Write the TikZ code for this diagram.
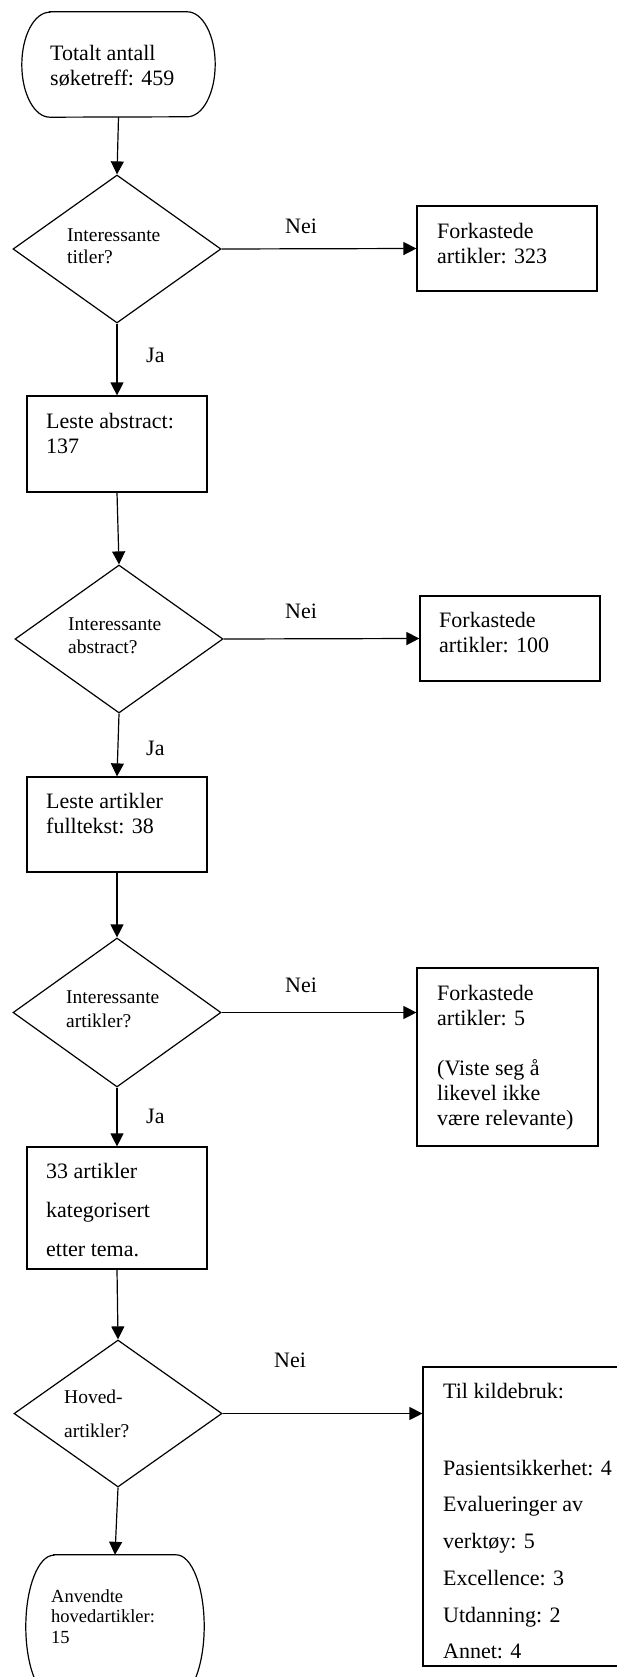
\documentclass[tikz,border=0pt]{standalone}
\usepackage{fontspec}
\setmainfont{Liberation Serif}
\usetikzlibrary{shapes.geometric,arrows.meta}
\tikzset{
  lw/.style={line width=1.2pt},
  boxn/.style={draw, lw, rectangle, inner sep=0pt},
  dian/.style={draw, lw, diamond, inner sep=0pt},
  termn/.style={rectangle, inner sep=0pt, draw=none},
  arr/.style={lw, -{Triangle[length=13pt,width=13pt]}},
  txt/.style={anchor=north west, inner sep=0pt, align=left, font=\fontsize{22}{25}\selectfont},
}
\begin{document}
\begin{tikzpicture}[x=1pt,y=-1pt]
\useasboundingbox[fill=white] (0,0) rectangle (616,1677);

% ---- shapes ----
\node[termn, minimum width=193pt, minimum height=105pt] (start) at (118.5,64.5) {};
\draw[lw] ([xshift=28pt]start.north west) -- ([xshift=-28pt]start.north east)
  arc[start angle=90,end angle=-90,x radius=28pt,y radius=52.5pt]
  -- ([xshift=28pt]start.south west)
  arc[start angle=270,end angle=90,x radius=28pt,y radius=52.5pt] -- cycle;

\node[dian, minimum width=208pt, minimum height=148pt] (d1) at (117,249) {};
\node[boxn, minimum width=180pt, minimum height=85pt] (f1) at (507,248.5) {};
\node[boxn, minimum width=180pt, minimum height=96pt] (b1) at (117,444) {};
\node[dian, minimum width=208pt, minimum height=148pt] (d2) at (119,639) {};
\node[boxn, minimum width=180pt, minimum height=85pt] (f2) at (510,638.5) {};
\node[boxn, minimum width=180pt, minimum height=95pt] (b2) at (117,824.5) {};
\node[dian, minimum width=208pt, minimum height=149pt] (d3) at (117,1012.5) {};
\node[boxn, minimum width=181pt, minimum height=178pt] (f3) at (507.5,1057) {};
\node[boxn, minimum width=180pt, minimum height=122pt] (b3) at (117,1208) {};
\node[dian, minimum width=208pt, minimum height=147pt] (d4) at (118,1413.5) {};
\node[boxn, minimum width=196pt, minimum height=299pt] (f4) at (521,1516.5) {};

\node[termn, minimum width=178pt, minimum height=143pt] (end) at (115,1626.5) {};
\draw[lw] ([xshift=28pt]end.north west) -- ([xshift=-28pt]end.north east)
  arc[start angle=90,end angle=-90,x radius=28pt,y radius=71.5pt]
  -- ([xshift=28pt]end.south west)
  arc[start angle=270,end angle=90,x radius=28pt,y radius=71.5pt] -- cycle;

% ---- texts ----
\node[txt] (tstart) at (50,42.5) {\strut Totalt antall\\søketreff: 459};
\node[txt, font=\fontsize{19.5}{22}\selectfont] (td1) at (67,225.6) {\strut Interessante\\titler?};
\node[txt] (tf1) at (437,220.5) {\strut Forkastede\\artikler: 323};
\node[txt] (tb1) at (46,410.5) {\strut Leste abstract:\\137};
\node[txt, font=\fontsize{19.5}{22}\selectfont] (td2) at (68,614.6) {\strut Interessante\\[1pt]abstract?};
\node[txt] (tf2) at (439,609.5) {\strut Forkastede\\artikler: 100};
\node[txt] (tb2) at (46,790.5) {\strut Leste artikler\\fulltekst: 38};
\node[txt, font=\fontsize{19.5}{22}\selectfont] (td3) at (66,987.6) {\strut Interessante\\[2pt]artikler?};
\node[txt] (tf3) at (437,982.5) {\strut Forkastede\\artikler: 5\\[25pt](Viste seg å\\likevel ikke\\være relevante)};
\node[txt] (tb3) at (46,1160.5) {\strut 33 artikler\\[14pt]kategorisert\\[14pt]etter tema.};
\node[txt, font=\fontsize{19.5}{22}\selectfont] (td4) at (64,1387.6) {\strut Hoved-\\[12pt]artikler?};
\node[txt] (tf4) at (443,1380.5) {\strut Til kildebruk:\\[52pt]Pasientsikkerhet: 4\\[11.7pt]Evalueringer av\\[11.7pt]verktøy: 5\\[11.7pt]Excellence: 3\\[11.7pt]Utdanning: 2\\[11.7pt]Annet: 4};
\node[txt, font=\fontsize{18.5}{20.5}\selectfont] (tend) at (51,1587.65) {\strut Anvendte\\hovedartikler:\\15};

% ---- labels ----
\node[txt] (nei1) at (285,215.5) {\strut Nei};
\node[txt] (ja1) at (146,344.5) {\strut Ja};
\node[txt] (nei2) at (285,600.5) {\strut Nei};
\node[txt] (ja2) at (146,737.5) {\strut Ja};
\node[txt] (nei3) at (285,974.5) {\strut Nei};
\node[txt] (ja3) at (146,1105.5) {\strut Ja};
\node[txt] (nei4) at (274,1349.5) {\strut Nei};

% ---- connectors ----
\draw[arr] (start.south) -- (d1.north);
\draw[arr] (d1.east) -- (f1.west);
\draw[arr] (d1.south) -- (b1.north);
\draw[arr] (b1.south) -- (d2.north);
\draw[arr] (d2.east) -- (f2.west);
\draw[arr] (d2.south) -- (b2.north);
\draw[arr] (b2.south) -- (d3.north);
\draw[arr] (d3.east) -- (d3.east -| f3.west);
\draw[arr] (d3.south) -- (b3.north);
\draw[arr] (b3.south) -- (d4.north);
\draw[arr] (d4.east) -- (d4.east -| f4.west);
\draw[arr] (d4.south) -- (end.north);
\end{tikzpicture}
\end{document}
